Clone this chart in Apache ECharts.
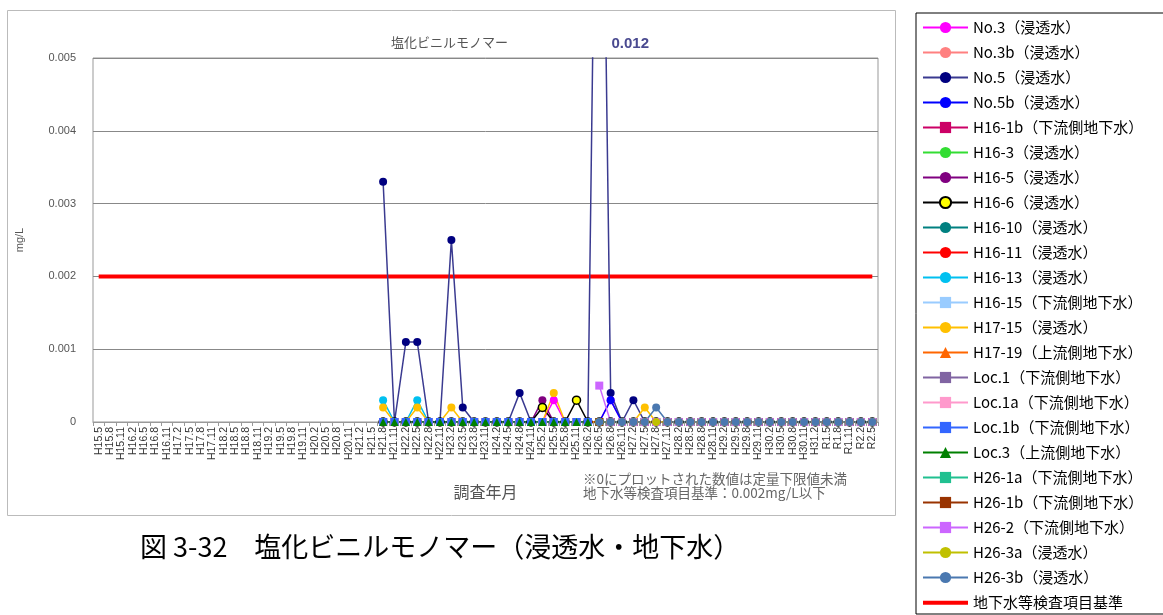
<!DOCTYPE html>
<html><head><meta charset="utf-8">
<script src="https://cdn.jsdelivr.net/npm/echarts@6/dist/echarts.min.js"></script>
<style>html,body{margin:0;padding:0;background:#fff}#c{width:1163px;height:615px}</style>
</head><body><div id="c"></div>
<script>
const _ = null;
const categories = ['H15.5','H15.8','H15.11','H16.2','H16.5','H16.8','H16.11','H17.2','H17.5','H17.8','H17.11','H18.2','H18.5','H18.8','H18.11','H19.2','H19.5','H19.8','H19.11','H20.2','H20.5','H20.8','H20.11','H21.2','H21.5','H21.8','H21.11','H22.2','H22.5','H22.8','H22.11','H23.2','H23.5','H23.8','H23.11','H24.2','H24.5','H24.8','H24.11','H25.2','H25.5','H25.8','H25.11','H26.2','H26.5','H26.8','H26.11','H27.2','H27.5','H27.8','H27.11','H28.2','H28.5','H28.8','H28.11','H29.2','H29.5','H29.8','H29.11','H30.2','H30.5','H30.8','H30.11','H31.2','R1.5','R1.8','R1.11','R2.2','R2.5'];

// values (mg/L); null = not measured
const no3   = [_,_,_,_,_,_,_,_,_,_,_,_,_,_,_,_,_,_,_,_,_,_,_,_,_, 0,0,0,0,0,0,0,0,0,0, 0,0,0,0,0,0.0003,0,0,0,0, 0.0003,0,0,0,0,0,0,0,0,0, 0,0,0,0,0,0,0,0,0,0, 0,0,0,0];
const no3b  = [_,_,_,_,_,_,_,_,_,_,_,_,_,_,_,_,_,_,_,_,_,_,_,_,_, 0,0,0,0,0,0,0,0,0,0, 0,0,0,0,0,0,0,0,0,0, 0,0,0,0,0,0,0,0,0,0, 0,0,0,0,0,0,0,0,0,0, 0,0,0,0];
const no5   = [_,_,_,_,_,_,_,_,_,_,_,_,_,_,_,_,_,_,_,_,_,_,_,_,_, 0.0033,0,0.0011,0.0011,0,0,0.0025,0.0002,0,0, 0,0,0.0004,0,0,0,0,0,0,0.012, 0.0004,0,0.0003,0,0,0,0,0,0,0, 0,0,0,0,0,0,0,0,0,0, 0,0,0,0];
const no5b  = [_,_,_,_,_,_,_,_,_,_,_,_,_,_,_,_,_,_,_,_,_,_,_,_,_, 0,0,0,0,0,0,0,0,0,0, 0,0,0,0,0,0,0,0,0,0, 0.0003,0,0,0,0,0,0,0,0,0, 0,0,0,0,0,0,0,0,0,0, 0,0,0,0];
const h16_1b= [_,_,_,_,_,_,_,_,_,_,_,_,_,_,_,_,_,_,_,_,_,_,_,_,_, 0,0,0,0,0,0,0,0,0,0, 0,0,0,0,0,0,0,0,0,0, 0,0,0,0,0,0,0,0,0,0, 0,0,0,0,0,0,0,0,0,0, 0,0,0,0];
const h16_3 = [_,_,_,_,_,_,_,_,_,_,_,_,_,_,_,_,_,_,_,_,_,_,_,_,_, 0,0,0,0,0,0,0,0,0,0, 0,0,0,0,0,0,0,0,0,0, 0,0,0,0,0,0,0,0,0,0, 0,0,0,0,0,0,0,0,0,0, 0,0,0,0];
const h16_5 = [_,_,_,_,_,_,_,_,_,_,_,_,_,_,_,_,_,_,_,_,_,_,_,_,_, 0,0,0,0,0,0,0,0,0,0, 0,0,0,0,0.0003,0,0,0,0,0, 0,0,0,0,0,0,0,0,0,0, 0,0,0,0,0,0,0,0,0,0, 0,0,0,0];
const h16_6 = [_,_,_,_,_,_,_,_,_,_,_,_,_,_,_,_,_,_,_,_,_,_,_,_,_, 0,0,0,0,0,0,0,0,0,0, 0,0,0,0,0.0002,0,0,0.0003,0,0, 0,0,0,0,0,0,0,0,0,0, 0,0,0,0,0,0,0,0,0,0, 0,0,0,0];
const h16_10= [_,_,_,_,_,_,_,_,_,_,_,_,_,_,_,_,_,_,_,_,_,_,_,_,_, 0,0,0,0,0,0,0,0,0,0, 0,0,0,0,0,0,0,0,0,0, 0,0,0,0,0,0,0,0,0,0, 0,0,0,0,0,0,0,0,0,0, 0,0,0,0];
const h16_11= [_,_,_,_,_,_,_,_,_,_,_,_,_,_,_,_,_,_,_,_,_,_,_,_,_, 0,0,0,0,0,0,0,0,0,0, 0,0,0,0,0,0,0,0,0,0, 0,0,0,0,0,0,0,0,0,0, 0,0,0,0,0,0,0,0,0,0, 0,0,0,0];
const h16_13= [_,_,_,_,_,_,_,_,_,_,_,_,_,_,_,_,_,_,_,_,_,_,_,_,_, 0.0003,0,0,0.0003,0,0,0,0,0,0, 0,0,0,0,0,0,0,0,0,0, 0,0,0,0,0,0,0,0,0,0, 0,0,0,0,0,0,0,0,0,0, 0,0,0,0];
const h16_15= [_,_,_,_,_,_,_,_,_,_,_,_,_,_,_,_,_,_,_,_,_,_,_,_,_, 0,0,0,0,0,0,0,0,0,0, 0,0,0,0,0,0,0,0,0,0, 0,0,0,0,0,0,0,0,0,0, 0,0,0,0,0,0,0,0,0,0, 0,0,0,0];
const h17_15= [_,_,_,_,_,_,_,_,_,_,_,_,_,_,_,_,_,_,_,_,_,_,_,_,_, 0.0002,0,0,0.0002,0,0,0.0002,0,0,0, 0,0,0,0,0,0.0004,0,0,0,0, 0,0,0,0.0002,0,0,0,0,0,0, 0,0,0,0,0,0,0,0,0,0, 0,0,0,0];
const h17_19= [_,_,_,_,_,_,_,_,_,_,_,_,_,_,_,_,_,_,_,_,_,_,_,_,_, 0,0,0,0,0,0,0,0,0,0, 0,0,0,0,0,0,0,0,0,0, 0,0,0,0,0,0,0,0,0,0, 0,0,0,0,0,0,0,0,0,0, 0,0,0,0];
const loc1  = [_,_,_,_,_,_,_,_,_,_,_,_,_,_,_,_,_,_,_,_,_,_,_,_,_, 0,0,0,0,0,0,0,0,0,0, 0,0,0,0,0,0,0,0,0,_, _,_,_,_,_,_,_,_,_,_, _,_,_,_,_,_,_,_,_,_, _,_,_,_];
const loc1a = [_,_,_,_,_,_,_,_,_,_,_,_,_,_,_,_,_,_,_,_,_,_,_,_,_, 0,0,0,0,0,0,0,0,0,0, 0,0,0,0,0,0,0,0,0,_, _,_,_,_,_,_,_,_,_,_, _,_,_,_,_,_,_,_,_,_, _,_,_,_];
const loc1b = [_,_,_,_,_,_,_,_,_,_,_,_,_,_,_,_,_,_,_,_,_,_,_,_,_, 0,0,0,0,0,0,0,0,0,0, 0,0,0,0,0,0,0,0,0,_, _,_,_,_,_,_,_,_,_,_, _,_,_,_,_,_,_,_,_,_, _,_,_,_];
const loc3  = [_,_,_,_,_,_,_,_,_,_,_,_,_,_,_,_,_,_,_,_,_,_,_,_,_, 0,0,0,0,0,0,0,0,0,0, 0,0,0,0,0,0,0,0,0,_, _,_,_,_,_,_,_,_,_,_, _,_,_,_,_,_,_,_,_,_, _,_,_,_];
const h26_1a= [_,_,_,_,_,_,_,_,_,_,_,_,_,_,_,_,_,_,_,_,_,_,_,_,_, _,_,_,_,_,_,_,_,_,_, _,_,_,_,_,_,_,_,_,0, 0,0,0,0,0,0,0,0,0,0, 0,0,0,0,0,0,0,0,0,0, 0,0,0,0];
const h26_1b= [_,_,_,_,_,_,_,_,_,_,_,_,_,_,_,_,_,_,_,_,_,_,_,_,_, _,_,_,_,_,_,_,_,_,_, _,_,_,_,_,_,_,_,_,0, 0,0,0,0,0,0,0,0,0,0, 0,0,0,0,0,0,0,0,0,0, 0,0,0,0];
const h26_2 = [_,_,_,_,_,_,_,_,_,_,_,_,_,_,_,_,_,_,_,_,_,_,_,_,_, _,_,_,_,_,_,_,_,_,_, _,_,_,_,_,_,_,_,_,0.0005, 0,0,0,0,0,0,0,0,0,0, 0,0,0,0,0,0,0,0,0,0, 0,0,0,0];
const h26_3a= [_,_,_,_,_,_,_,_,_,_,_,_,_,_,_,_,_,_,_,_,_,_,_,_,_, _,_,_,_,_,_,_,_,_,_, _,_,_,_,_,_,_,_,_,0, 0,0,0,0,0,0,0,0,0,0, 0,0,0,0,0,0,0,0,0,0, 0,0,0,0];
const h26_3b= [_,_,_,_,_,_,_,_,_,_,_,_,_,_,_,_,_,_,_,_,_,_,_,_,_, _,_,_,_,_,_,_,_,_,_, _,_,_,_,_,_,_,_,_,0, 0,0,0,0,0.0002,0,0,0,0,0, 0,0,0,0,0,0,0,0,0,0, 0,0,0,0];
const standardValue = 0.002;
const yTicks = [0, 0.001, 0.002, 0.003, 0.004, 0.005];

const seriesNames = ['No.3（浸透水）','No.3b（浸透水）','No.5（浸透水）','No.5b（浸透水）','H16-1b（下流側地下水）','H16-3（浸透水）','H16-5（浸透水）','H16-6（浸透水）','H16-10（浸透水）','H16-11（浸透水）','H16-13（浸透水）','H16-15（下流側地下水）','H17-15（浸透水）','H17-19（上流側地下水）','Loc.1（下流側地下水）','Loc.1a（下流側地下水）','Loc.1b（下流側地下水）','Loc.3（上流側地下水）','H26-1a（下流側地下水）','H26-1b（下流側地下水）','H26-2（下流側地下水）','H26-3a（浸透水）','H26-3b（浸透水）'];
const seriesData = [no3,no3b,no5,no5b,h16_1b,h16_3,h16_5,h16_6,h16_10,h16_11,h16_13,h16_15,h17_15,h17_19,loc1,loc1a,loc1b,loc3,h26_1a,h26_1b,h26_2,h26_3a,h26_3b];
const standardName = '地下水等検査項目基準';

// styles
const styles = [
 {c:'#ff00ff',s:'circle'},{c:'#ff8080',s:'circle'},{c:'#000080',s:'circle',lc:'#3a3a90'},{c:'#0000ff',s:'circle'},
 {c:'#cc0066',s:'rect'},{c:'#33dd33',s:'circle'},{c:'#800080',s:'circle'},{c:'#ffff00',s:'circle',b:'#000',lc:'#000'},
 {c:'#008080',s:'circle'},{c:'#ff0000',s:'circle'},{c:'#00c0f0',s:'circle'},{c:'#99ccff',s:'rect'},
 {c:'#ffc000',s:'circle'},{c:'#ff6600',s:'triangle'},{c:'#8064a2',s:'rect'},{c:'#ff99cc',s:'rect'},
 {c:'#3366ff',s:'rect'},{c:'#008000',s:'triangle'},{c:'#20c090',s:'rect'},{c:'#993300',s:'rect'},
 {c:'#cc66ff',s:'rect'},{c:'#c0c000',s:'circle'},{c:'#4a78b0',s:'circle'}
];

const series = seriesNames.map((name, i) => {
  const st = styles[i];
  const s = {
    name, type: 'line', data: seriesData[i], symbol: st.s, symbolSize: 8,
    connectNulls: false, animation: false,
    lineStyle: {color: st.lc || st.c, width: 1.5},
    itemStyle: {color: st.c, borderColor: st.b || st.c, borderWidth: st.b ? 1.5 : 0}
  };
  if (name === 'No.5（浸透水）') {
    const peak = Math.max(...no5.filter(v => v !== null));
    const peakIdx = no5.indexOf(peak);
    s.markPoint = {
      symbol: 'circle', symbolSize: 0, silent: true, animation: false,
      data: [{coord: [peakIdx, 0.0049], value: peak}],
      label: {show: true, formatter: p => p.value.toFixed(3), offset: [31, -21],
        color: '#4a4a90', fontSize: 15, fontWeight: 'bold', fontFamily: 'Liberation Sans'}
    };
  }
  return s;
});
series.push({
  name: standardName, type: 'line', symbol: 'none', animation: false,
  data: categories.map(() => standardValue),
  lineStyle: {color: '#ff0000', width: 4}, itemStyle: {color: '#ff0000'}, z: 1
});

const legendData = seriesNames.map(n => ({name: n})).concat([{
  name: standardName,
  icon: 'path://M0,0L0.01,0M0,5L52,5L52,9.5L0,9.5ZM0,14L0.01,14',
  itemStyle: {color: '#ff0000'}
}]);

const chart = echarts.init(document.getElementById('c'));
chart.setOption({
  animation: false,
  backgroundColor: '#fff',
  title: {text: '塩化ビニルモノマー', left: 386, top: 31,
    textStyle: {fontSize: 13, fontWeight: 'normal', color: '#555', fontFamily: 'Noto Sans CJK JP'}},
  grid: {left: 93, right: 285, top: 58, bottom: 193, show: true, borderColor: '#999', borderWidth: 1},
  legend: {
    orient: 'vertical', left: 916, top: 13, height: 605,
    padding: [7, 28, 4, 6], itemWidth: 45, itemHeight: 14, itemGap: 10,
    borderColor: '#000', borderWidth: 1,
    data: legendData,
    textStyle: {fontSize: 15, lineHeight: 14, color: '#000', fontFamily: 'Noto Sans CJK JP'}
  },
  xAxis: {
    type: 'category', data: categories, boundaryGap: true,
    name: '調査年月', nameLocation: 'middle', nameGap: 62,
    nameTextStyle: {fontSize: 16, color: '#555', fontFamily: 'Noto Sans CJK JP'},
    axisLine: {lineStyle: {color: '#999'}},
    axisTick: {show: true, length: 4, lineStyle: {color: '#999'}},
    axisLabel: {rotate: 90, interval: 0, fontSize: 10.5, color: '#333', margin: 5, fontFamily: 'Liberation Sans'},
    splitLine: {show: false}
  },
  yAxis: {
    type: 'value', min: yTicks[0], max: yTicks[yTicks.length - 1], interval: 0.001,
    name: 'mg/L', nameLocation: 'middle', nameGap: 68, nameRotate: 90,
    nameTextStyle: {fontSize: 11, color: '#555', fontFamily: 'Liberation Sans'},
    axisLine: {show: false}, axisTick: {show: false},
    axisLabel: {fontSize: 11, color: '#555', margin: 17, fontFamily: 'Liberation Sans',
      formatter: v => v === 0 ? '0' : v.toFixed(3)},
    splitLine: {lineStyle: {color: '#888', width: 1}}
  },
  graphic: [
    {type: 'rect', left: 5, top: 8, shape: {width: 888, height: 505}, style: {fill: 'none', stroke: '#bbb', lineWidth: 1}, z: -1},
    {type: 'text', left: 583, top: 472, style: {text: '※0にプロットされた数値は定量下限値未満', fontSize: 13.5, fill: '#666', fontFamily: 'Noto Sans CJK JP'}},
    {type: 'text', left: 583, top: 486, style: {text: '地下水等検査項目基準：0.002mg/L以下', fontSize: 13.5, fill: '#666', fontFamily: 'Noto Sans CJK JP'}},
    {type: 'text', left: 140, top: 533, style: {text: '図 3-32　塩化ビニルモノマー（浸透水・地下水）', fontSize: 27, fill: '#000', fontFamily: 'Noto Sans CJK JP'}}
  ],
  series
});
</script></body></html>
